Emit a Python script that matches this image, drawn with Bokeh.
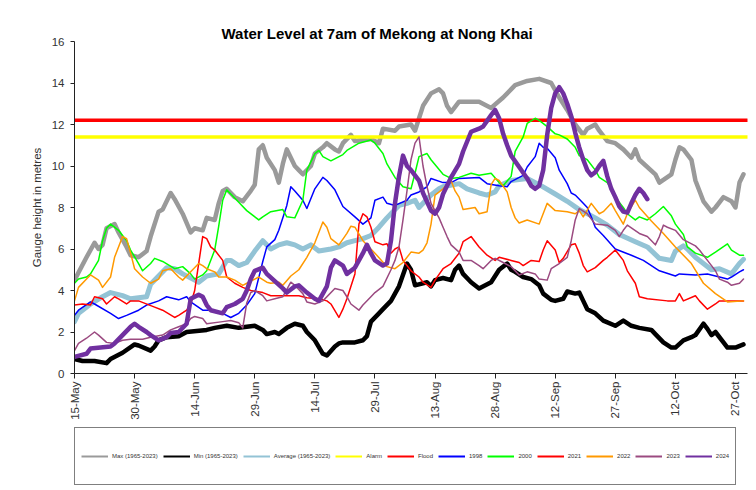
import math
from bokeh.plotting import figure
from bokeh.layouts import column
from bokeh.models import Range1d, FixedTicker, Legend, LegendItem
from bokeh.embed import file_html
from bokeh.resources import INLINE

TITLE = "Water Level at 7am of Mekong at Nong Khai"
Y_LABEL = "Gauge height in metres"
TICK_DAYS = [0, 15, 30, 45, 60, 75, 90, 105, 120, 135, 150, 165]
TICK_LABELS = ["15-May", "30-May", "14-Jun", "29-Jun", "14-Jul", "29-Jul",
               "13-Aug", "28-Aug", "12-Sep", "27-Sep", "12-Oct", "27-Oct"]
N_DAYS = 168          # days shown after 15-May
ALARM_LEVEL = 11.4
FLOOD_LEVEL = 12.2

# ---- series: day offset from 15-May, gauge height (m) ----
max_days = [0, 3, 5, 6, 7, 8, 10, 11, 13, 14, 16, 18, 19, 21, 22, 24, 25, 27, 29, 30, 32, 33, 35, 36, 37, 38,
            40, 42, 44, 45, 46, 47, 48, 50, 51, 52, 53, 55, 56, 57, 59, 60, 62, 63, 65, 66, 67, 69, 70, 74, 76,
            77, 80, 81, 84, 85, 87, 89, 91, 92, 93, 94, 96, 101, 104, 107, 110, 113, 116, 119, 121, 123, 125,
            127, 128, 130, 131, 133, 135, 137, 139, 140, 141, 145, 146, 149, 150, 151, 152, 154, 155, 157, 159,
            160, 162, 164, 165, 166, 167]
max_vals = [4.5, 5.6, 6.3, 6.0, 6.2, 7.0, 7.2, 6.8, 6.1, 5.7, 5.6, 5.9, 6.6, 7.8, 7.9, 8.7, 8.4, 7.7, 6.8, 7.0,
            6.9, 7.5, 7.4, 8.2, 8.8, 8.9, 8.5, 8.3, 8.8, 9.1, 10.8, 11.0, 10.4, 9.8, 9.2, 10.1, 10.8, 10.0, 9.8,
            9.6, 10.0, 10.6, 10.9, 11.1, 10.8, 10.7, 11.1, 11.5, 11.2, 11.3, 11.1, 11.8, 11.7, 11.9, 12.0, 11.7,
            12.9, 13.5, 13.7, 13.5, 12.9, 12.6, 13.1, 13.1, 12.8, 13.3, 13.9, 14.1, 14.2, 14.0, 13.3, 12.7, 12.0,
            11.5, 11.8, 12.0, 11.7, 11.2, 11.1, 10.8, 10.4, 10.8, 10.3, 9.6, 9.2, 9.6, 10.3, 10.9, 10.8, 10.3,
            9.3, 8.3, 7.8, 8.0, 8.5, 8.3, 8.0, 9.2, 9.6]

min_days = [0, 2, 5, 8, 9, 12, 15, 16, 19, 20, 21, 23, 26, 28, 33, 35, 38, 41, 45, 47, 48, 50, 51, 53, 55, 57,
            58, 60, 62, 63, 65, 66, 67, 70, 72, 73, 74, 76, 77, 79, 80, 81, 83, 84, 85, 88, 89, 90, 92, 94, 95,
            96, 97, 99, 101, 104, 106, 108, 109, 110, 112, 114, 116, 117, 119, 120, 122, 123, 125, 126, 127,
            128, 130, 132, 135, 137, 139, 141, 144, 145, 147, 149, 150, 152, 154, 155, 157, 158, 159, 160, 162,
            163, 165, 167]
min_vals = [0.7, 0.6, 0.6, 0.5, 0.7, 1.0, 1.4, 1.35, 1.1, 1.3, 1.6, 1.75, 1.8, 2.0, 2.1, 2.2, 2.3, 2.2, 2.3,
            2.1, 1.9, 2.0, 1.9, 2.2, 2.4, 2.3, 2.0, 1.6, 0.95, 0.87, 1.3, 1.45, 1.5, 1.5, 1.6, 1.8, 2.5, 2.9,
            3.1, 3.5, 3.85, 4.2, 5.3, 5.0, 4.25, 4.4, 4.2, 4.5, 4.6, 4.5, 5.0, 5.2, 4.8, 4.4, 4.1, 4.4, 5.0,
            5.3, 5.0, 4.9, 4.65, 4.55, 4.25, 3.85, 3.55, 3.5, 3.6, 3.95, 3.85, 3.9, 3.5, 3.1, 2.9, 2.55, 2.3,
            2.55, 2.3, 2.2, 2.1, 1.9, 1.5, 1.25, 1.25, 1.6, 1.75, 1.85, 2.4, 2.15, 1.85, 2.0, 1.5, 1.25, 1.25, 1.4]

avg_days = [0, 1, 2, 4, 7, 9, 12, 14, 18, 19, 21, 23, 25, 27, 30, 31, 33, 36, 38, 39, 41, 43, 45, 47, 49, 51,
            53, 55, 57, 59, 61, 64, 66, 68, 70, 72, 74, 76, 78, 80, 81, 83, 85, 86, 87, 89, 91, 92, 96, 98, 101,
            103, 105, 106, 109, 111, 113, 116, 120, 123, 126, 130, 133, 136, 140, 143, 146, 149, 150, 152, 153,
            155, 157, 159, 161, 164, 166, 167]
avg_vals = [2.5, 2.9, 3.05, 3.35, 3.7, 3.9, 3.75, 3.6, 3.7, 4.3, 4.7, 5.1, 5.05, 4.8, 4.5, 4.4, 4.7, 4.8, 5.45,
            5.45, 5.2, 5.35, 5.9, 6.4, 6.0, 6.2, 6.3, 6.2, 6.0, 6.2, 5.9, 6.0, 6.1, 6.3, 6.4, 6.5, 6.65, 7.05,
            7.5, 7.9, 8.1, 8.2, 8.35, 8.0, 8.2, 8.6, 8.9, 9.0, 9.15, 8.9, 8.7, 8.6, 8.75, 9.05, 9.3, 9.35, 9.4,
            9.1, 8.65, 8.3, 7.9, 7.5, 7.15, 6.7, 6.35, 6.1, 5.55, 5.45, 5.9, 6.15, 6.0, 5.6, 5.3, 5.0, 5.05,
            4.8, 5.3, 5.5]

y1998_days = [0, 1, 4, 5, 9, 11, 13, 16, 18, 21, 23, 26, 28, 29, 32, 34, 37, 39, 41, 43, 45, 47, 48, 50, 51,
              53, 54, 55, 57, 58, 60, 62, 63, 65, 67, 70, 72, 74, 75, 77, 78, 80, 83, 84, 86, 88, 89, 92, 94,
              96, 101, 103, 106, 108, 109, 112, 113, 115, 116, 117, 118, 120, 121, 123, 124, 125, 127, 128,
              129, 130, 132, 135, 139, 142, 146, 150, 151, 155, 158, 163, 164, 166, 167]
y1998_vals = [2.8, 3.05, 3.45, 3.35, 2.9, 2.65, 2.8, 3.05, 3.3, 3.5, 3.7, 3.55, 3.7, 3.45, 3.05, 3.05, 2.9,
              2.7, 2.9, 3.3, 3.85, 5.4, 6.1, 6.45, 6.9, 8.1, 9.0, 8.8, 8.35, 7.95, 8.9, 9.45, 9.3, 8.85, 8.05,
              7.55, 7.2, 7.5, 8.35, 8.5, 8.2, 8.1, 8.35, 8.6, 8.75, 9.0, 9.4, 9.2, 9.2, 9.4, 9.45, 9.15, 9.05,
              9.0, 9.25, 9.55, 9.95, 10.45, 11.1, 10.9, 10.85, 10.4, 9.8, 9.15, 8.7, 8.6, 8.2, 8.0, 7.55, 7.05,
              6.65, 6.0, 5.7, 5.45, 4.95, 4.7, 4.8, 4.75, 4.8, 4.55, 4.65, 4.9, 5.0]

y2000_days = [0, 1, 3, 4, 6, 7, 8, 9, 11, 13, 14, 16, 17, 19, 20, 22, 25, 27, 29, 30, 32, 33, 35, 36, 37, 38,
              39, 41, 43, 46, 47, 49, 52, 53, 55, 57, 58, 60, 61, 62, 64, 67, 68, 71, 74, 75, 77, 78, 80, 82,
              84, 85, 86, 88, 89, 92, 94, 96, 99, 101, 104, 106, 107, 109, 110, 112, 113, 115, 116, 118, 120,
              121, 123, 125, 126, 128, 130, 131, 133, 134, 135, 137, 138, 140, 141, 143, 145, 147, 149, 150,
              152, 153, 155, 158, 160, 163, 164, 166, 167]
y2000_vals = [4.35, 4.55, 4.65, 4.8, 5.45, 6.4, 7.0, 7.2, 6.9, 6.4, 5.95, 5.3, 4.95, 5.3, 5.55, 5.4, 5.05, 5.15,
              4.8, 4.55, 4.75, 4.95, 5.95, 7.1, 8.35, 8.85, 8.65, 8.25, 7.85, 7.4, 7.55, 7.8, 7.9, 7.55, 7.5,
              8.35, 9.8, 10.6, 10.75, 10.45, 10.25, 10.55, 10.75, 11.1, 11.25, 11.1, 10.6, 10.1, 9.45, 9.0, 8.9,
              9.65, 10.45, 10.6, 10.3, 9.6, 9.4, 9.45, 9.65, 9.55, 9.65, 9.2, 9.05, 9.5, 10.7, 11.4, 12.05, 12.3,
              12.2, 11.9, 11.55, 11.5, 11.3, 10.9, 10.5, 10.3, 9.8, 9.45, 9.2, 8.9, 8.5, 8.0, 7.7, 7.4, 7.55,
              7.4, 7.7, 8.05, 7.6, 7.2, 6.7, 6.1, 5.8, 5.6, 5.85, 6.25, 5.95, 5.7, 5.7]

y2021_days = [0, 2, 4, 5, 7, 8, 10, 11, 13, 14, 16, 20, 22, 25, 26, 28, 29, 30, 31, 32, 33, 34, 35, 37, 38, 40,
              42, 44, 47, 49, 53, 56, 58, 61, 63, 64, 66, 67, 68, 70, 71, 72, 73, 74, 75, 77, 78, 79, 80, 81,
              82, 84, 86, 87, 89, 90, 92, 94, 96, 97, 99, 101, 103, 105, 106, 109, 111, 112, 114, 116, 117,
              118, 120, 121, 122, 124, 125, 126, 127, 128, 130, 132, 133, 135, 137, 138, 140, 141, 143, 148,
              150, 151, 152, 155, 156, 158, 160, 161, 167]
y2021_vals = [3.3, 3.35, 3.3, 3.7, 3.6, 3.35, 3.7, 3.6, 3.35, 3.5, 3.5, 3.2, 3.05, 2.7, 2.8, 3.05, 3.35, 4.0,
              5.3, 6.6, 6.5, 6.1, 5.95, 5.45, 4.65, 4.35, 4.15, 4.0, 3.9, 3.75, 3.75, 3.75, 3.65, 3.6, 3.5, 3.35,
              2.7, 3.1, 3.6, 4.8, 7.2, 7.7, 7.55, 7.05, 6.35, 6.2, 6.25, 5.8, 6.0, 6.1, 5.45, 4.95, 4.65, 4.4,
              4.15, 4.5, 5.05, 5.3, 5.8, 6.35, 6.6, 6.1, 5.7, 5.45, 5.6, 5.45, 5.35, 5.2, 5.45, 5.4, 5.95, 6.4,
              5.95, 5.35, 5.55, 6.2, 6.25, 5.8, 5.2, 4.9, 5.1, 5.45, 5.6, 5.95, 5.45, 4.95, 4.35, 3.7, 3.6, 3.5,
              3.5, 3.85, 3.5, 3.75, 3.5, 3.1, 3.35, 3.5, 3.5]

y2022_days = [0, 1, 3, 4, 6, 7, 9, 10, 12, 13, 14, 15, 17, 19, 21, 22, 24, 26, 27, 29, 31, 32, 33, 35, 36, 38,
              40, 42, 43, 45, 46, 48, 49, 51, 52, 54, 56, 58, 60, 62, 63, 64, 66, 68, 69, 70, 72, 75, 78, 80,
              82, 84, 86, 87, 88, 89, 90, 92, 94, 95, 96, 97, 100, 101, 103, 104, 105, 106, 108, 109, 110, 111,
              113, 116, 118, 120, 123, 125, 126, 127, 129, 131, 132, 134, 135, 137, 138, 140, 141, 144, 147,
              150, 154, 157, 160, 163, 167]
y2022_vals = [3.5, 4.15, 4.55, 4.75, 4.5, 4.15, 4.65, 5.6, 6.6, 6.5, 5.8, 5.05, 4.65, 4.35, 4.55, 4.95, 5.05,
              4.65, 4.5, 4.9, 5.3, 5.2, 5.05, 4.9, 4.65, 4.65, 4.5, 4.25, 4.35, 4.55, 4.65, 4.4, 4.35, 4.4, 4.25,
              4.7, 5.0, 5.6, 6.3, 7.3, 7.05, 6.5, 6.2, 6.75, 7.1, 7.05, 6.4, 5.8, 5.15, 5.05, 5.35, 5.85, 5.8,
              5.95, 6.3, 7.2, 8.6, 8.9, 9.3, 8.8, 8.5, 7.9, 8.0, 7.7, 7.8, 9.1, 9.4, 9.3, 8.75, 8.0, 7.5, 7.25,
              7.4, 7.2, 8.2, 7.85, 7.8, 7.7, 7.85, 7.55, 8.2, 7.7, 7.8, 8.2, 7.85, 7.2, 7.7, 8.35, 8.0, 7.35,
              6.75, 6.1, 5.3, 4.35, 3.85, 3.45, 3.5]

y2023_days = [0, 1, 3, 5, 6, 8, 10, 12, 14, 17, 19, 22, 24, 26, 28, 29, 30, 32, 33, 37, 39, 41, 42, 43, 44, 45,
              47, 48, 50, 52, 54, 55, 57, 58, 60, 62, 65, 67, 68, 69, 71, 72, 74, 75, 77, 79, 80, 81, 82, 83,
              84, 85, 86, 87, 88, 89, 91, 92, 93, 94, 96, 97, 99, 101, 102, 104, 105, 107, 109, 111, 113, 115,
              116, 118, 119, 121, 123, 124, 125, 126, 128, 130, 133, 135, 136, 137, 138, 141, 143, 145, 146,
              147, 148, 150, 152, 155, 156, 158, 160, 161, 163, 164, 166, 167]
y2023_vals = [1.1, 1.45, 1.7, 2.0, 1.85, 1.5, 1.45, 1.6, 1.65, 1.65, 1.75, 1.85, 2.1, 2.25, 2.4, 2.65, 2.75,
              2.65, 2.4, 2.5, 2.55, 2.45, 2.2, 3.4, 3.9, 4.0, 3.75, 3.5, 3.6, 3.7, 4.4, 4.25, 3.85, 3.45, 3.35,
              3.5, 4.1, 4.0, 3.7, 3.35, 3.05, 3.3, 3.7, 3.9, 4.2, 5.0, 5.45, 6.1, 7.4, 8.8, 10.3, 11.1, 11.4,
              10.0, 9.0, 8.2, 7.5, 7.05, 6.6, 6.2, 5.85, 5.45, 5.45, 5.2, 5.05, 5.45, 5.55, 5.35, 5.15, 4.75, 4.9,
              4.8, 4.55, 4.5, 5.05, 5.3, 5.6, 6.4, 7.4, 7.95, 7.7, 7.2, 7.15, 6.9, 6.6, 6.9, 7.15, 6.75, 6.6,
              6.2, 6.6, 7.15, 7.05, 6.9, 6.45, 6.15, 5.95, 5.45, 4.95, 4.55, 4.4, 4.25, 4.35, 4.55]

y2024_days = [0, 3, 4, 9, 10, 12, 14, 15, 16, 18, 19, 21, 23, 24, 26, 28, 29, 31, 32, 33, 34, 37, 38, 40, 42,
              43, 44, 45, 47, 48, 50, 52, 53, 54, 55, 56, 58, 60, 61, 63, 64, 65, 67, 68, 70, 72, 73, 74, 75,
              77, 78, 79, 80, 81, 82, 83, 84, 86, 87, 89, 90, 91, 92, 94, 96, 97, 99, 101, 102, 104, 105, 106,
              107, 108, 109, 111, 113, 114, 115, 116, 117, 118, 119, 120, 121, 122, 123, 124, 125, 126, 127,
              128, 129, 130, 131, 132, 133, 134, 135, 136, 137, 138, 139, 140, 141, 142, 143]
y2024_vals = [0.8, 0.95, 1.2, 1.3, 1.45, 1.85, 2.25, 2.4, 2.25, 2.0, 1.85, 1.6, 1.75, 1.95, 2.0, 2.4, 3.6, 3.8,
              3.7, 3.3, 3.05, 2.9, 3.2, 3.35, 3.6, 4.0, 4.55, 4.95, 5.1, 4.8, 4.45, 4.1, 3.9, 4.05, 4.2, 4.25,
              3.9, 3.6, 3.5, 4.2, 5.1, 5.45, 5.2, 4.8, 5.1, 5.8, 6.2, 5.8, 5.45, 5.2, 5.3, 6.4, 8.2, 9.5, 10.5,
              10.0, 9.8, 9.3, 8.7, 7.85, 7.7, 8.0, 8.65, 9.45, 10.1, 10.7, 11.65, 11.8, 11.9, 12.45, 12.7, 12.3,
              11.55, 11.0, 10.5, 9.95, 9.4, 9.05, 8.9, 9.05, 9.8, 11.5, 12.8, 13.5, 13.8, 13.5, 13.0, 12.4,
              11.6, 10.9, 10.3, 9.8, 9.55, 9.7, 10.0, 10.25, 9.5, 8.9, 8.5, 8.05, 7.8, 7.75, 8.2, 8.6, 8.9, 8.7,
              8.4]

SERIES = [
    ("Max (1965-2023)", max_days, max_vals, "#9a9a9a", 4.5),
    ("Min (1965-2023)", min_days, min_vals, "#000000", 4.5),
    ("Average (1965-2023)", avg_days, avg_vals, "#93c3d5", 5.0),
    ("Alarm", [0, N_DAYS], [ALARM_LEVEL, ALARM_LEVEL], "#ffff00", 3.5),
    ("Flood", [0, N_DAYS], [FLOOD_LEVEL, FLOOD_LEVEL], "#ff0000", 3.5),
    ("1998", y1998_days, y1998_vals, "#0000ff", 1.5),
    ("2000", y2000_days, y2000_vals, "#00ff00", 1.5),
    ("2021", y2021_days, y2021_vals, "#ff0000", 1.5),
    ("2022", y2022_days, y2022_vals, "#ff9900", 1.5),
    ("2023", y2023_days, y2023_vals, "#9b4a80", 1.5),
    ("2024", y2024_days, y2024_vals, "#7030a0", 4.5),
]

FONT = "Liberation Sans"
TEXT_COLOR = "#333333"

# ---------------- main chart ----------------
p = figure(width=756, height=425, output_backend="svg", toolbar_location=None,
           x_range=Range1d(0, N_DAYS), y_range=Range1d(0, 16),
           min_border_left=74, min_border_right=9, min_border_top=41, min_border_bottom=52)
p.background_fill_color = "white"
p.border_fill_color = "white"
p.outline_line_color = None
p.xgrid.visible = False
p.ygrid.visible = False

p.title.text = TITLE
p.title.align = "left"
p.title.offset = 147
p.title.standoff = 0
p.title.text_font = FONT
p.title.text_font_size = "15px"
p.title.text_font_style = "bold"
p.title.text_color = "black"

for name, xs, ys, color, width in SERIES:
    p.line(xs, ys, line_color=color, line_width=width, line_join="round", line_cap="round")

yax = p.yaxis[0]
yax.ticker = FixedTicker(ticks=[0, 2, 4, 6, 8, 10, 12, 14, 16])
yax.minor_tick_line_color = None
yax.major_tick_in = 0
yax.major_tick_out = 4
yax.major_label_standoff = 6
yax.axis_line_color = "#222222"
yax.major_tick_line_color = "#222222"
yax.major_label_text_font = FONT
yax.major_label_text_font_size = "11.5px"
yax.major_label_text_color = TEXT_COLOR
yax.axis_label = Y_LABEL
yax.axis_label_text_font = FONT
yax.axis_label_text_font_size = "11.5px"
yax.axis_label_text_font_style = "normal"
yax.axis_label_text_color = TEXT_COLOR
yax.axis_label_standoff = 6

xax = p.xaxis[0]
xax.ticker = FixedTicker(ticks=TICK_DAYS)
xax.major_label_overrides = {d: lab for d, lab in zip(TICK_DAYS, TICK_LABELS)}
xax.major_label_orientation = math.pi / 2
xax.minor_tick_line_color = None
xax.major_tick_in = 0
xax.major_tick_out = 5
xax.major_label_standoff = 3
xax.axis_line_color = "#222222"
xax.major_tick_line_color = "#222222"
xax.major_label_text_font = FONT
xax.major_label_text_font_size = "11.5px"
xax.major_label_text_color = TEXT_COLOR

# ---------------- legend strip ----------------
lg = figure(width=756, height=65, output_backend="svg", toolbar_location=None,
            x_range=Range1d(0, 1), y_range=Range1d(0, 1),
            x_axis_type=None, y_axis_type=None,
            min_border_left=0, min_border_right=0, min_border_top=0, min_border_bottom=0)
lg.outline_line_color = None
lg.background_fill_color = "white"
lg.border_fill_color = "white"

items = []
for name, xs, ys, color, width in SERIES:
    # swatch renderer: carries only the style for the legend, draws nothing
    sw = lg.line([math.nan, math.nan], [math.nan, math.nan], line_color=color, line_width=2)
    items.append(LegendItem(label=name, renderers=[sw]))

legend = Legend(items=items, location=(0, 5), orientation="horizontal",
                glyph_width=27, glyph_height=44, label_width=0,
                label_standoff=4, spacing=5, padding=6, margin=0,
                label_text_font=FONT, label_text_font_size="6px",
                label_text_color=TEXT_COLOR, border_line_color="black", border_line_width=1,
                background_fill_color="white", background_fill_alpha=1.0)
lg.add_layout(legend, "center")

layout = column(p, lg, spacing=0)
open("out.html", "w").write(file_html(layout, INLINE))
